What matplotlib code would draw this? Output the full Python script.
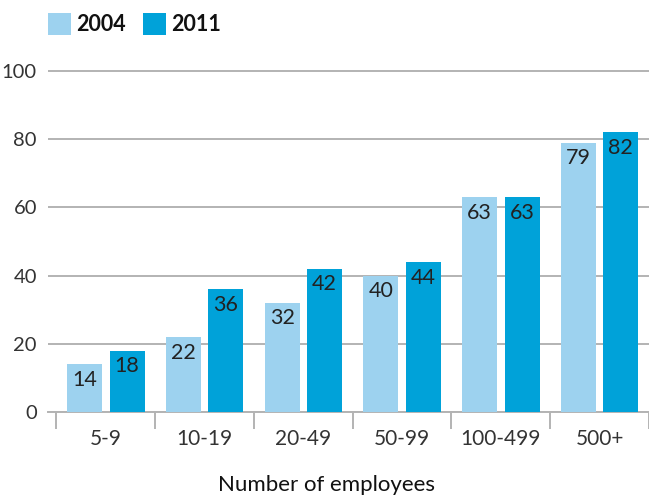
import matplotlib
matplotlib.use("Agg")
import matplotlib.pyplot as plt
from matplotlib.patches import Rectangle
import numpy as np

categories = ["5-9", "10-19", "20-49", "50-99", "100-499", "500+"]
series_names = ["2004", "2011"]
values_2004 = [14, 22, 32, 40, 63, 79]
values_2011 = [18, 36, 42, 44, 63, 82]
yticks = [0, 20, 40, 60, 80, 100]
xlabel = "Number of employees"

c2004 = "#9dd2ef"
c2011 = "#00a2d9"
txt = "#222222"
grid = "#b3b3b3"

plt.rcParams['font.family'] = ['Lato', 'DejaVu Sans']

W, H = 649, 497
fig = plt.figure(figsize=(W / 100, H / 100), dpi=100)
left = 48 / W
bottom = 1 - 412 / H
top_px = 71
ymax = 100.4
height = (412 - top_px) / H * (ymax / 100)
ax = fig.add_axes([left, bottom, 1 - left, height])

x = np.arange(len(categories))
bw = 0.353
off = 0.215
b1 = ax.bar(x - off, values_2004, bw, color=c2004, zorder=3, label=series_names[0])
b2 = ax.bar(x + off, values_2011, bw, color=c2011, zorder=3, label=series_names[1])

for bars, vals in ((b1, values_2004), (b2, values_2011)):
    for r, v in zip(bars, vals):
        ax.annotate(str(v), (r.get_x() + r.get_width() / 2, v), xytext=(0, -4),
                    textcoords="offset points", ha="center", va="top",
                    fontsize=15.5, color=txt, zorder=4)

ax.set_ylim(0, ymax)
ax.set_xlim(-0.586, 5.474)
ax.set_yticks(yticks)
ax.set_yticklabels([str(t) for t in yticks])
ax.yaxis.grid(True, color=grid, linewidth=1.4, zorder=0)
ax.tick_params(axis="y", length=0, labelsize=14.5, labelcolor="#333333", pad=8)

ax.set_xticks(x)
ax.set_xticklabels(categories)
ax.tick_params(axis="x", which="major", length=0, labelsize=15, labelcolor="#333333", pad=12)
ax.set_xticks(np.arange(-0.5, len(categories), 1.0), minor=True)
ax.tick_params(axis="x", which="minor", length=12, width=1.4, color=grid, direction="out")

for s in ("top", "right", "left"):
    ax.spines[s].set_visible(False)
ax.spines["bottom"].set_color(grid)
ax.spines["bottom"].set_linewidth(1.4)

fig.text(327 / W, 1 - 485 / H, xlabel, ha="center", va="center", fontsize=16, color="#111111")

# legend (manual, in figure pixel coords)
leg_items = [(48, c2004, series_names[0]), (143, c2011, series_names[1])]
for px, col, name in leg_items:
    fig.patches.append(Rectangle((px / W, 1 - 35 / H), 23 / W, 22 / H,
                                 transform=fig.transFigure, facecolor=col, edgecolor="none"))
    fig.text((px + 28) / W, 1 - 24.5 / H, name, ha="left", va="center",
             fontsize=15.5, fontweight="bold", color="#111111")

fig.savefig("out.png", dpi=100)
